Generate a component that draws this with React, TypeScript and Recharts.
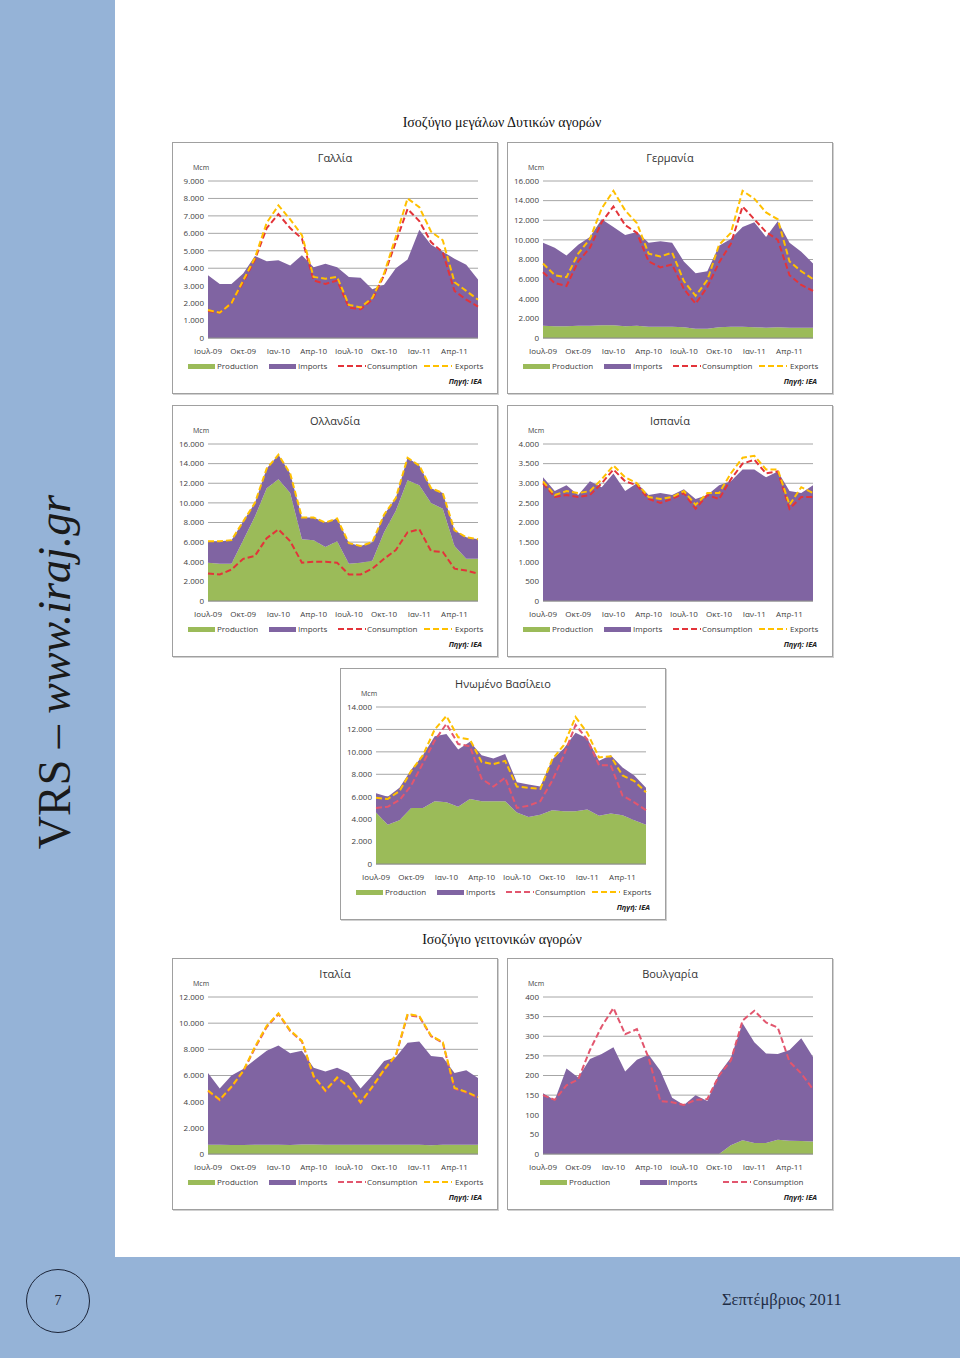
import React from "react";
import { Area, CartesianGrid, ComposedChart, Line, XAxis, YAxis } from "recharts";

const months = [
	"Ιουλ-09", "Αυγ-09", "Σεπ-09", "Οκτ-09", "Νοε-09", "Δεκ-09",
	"Ιαν-10", "Φεβ-10", "Μαρ-10", "Απρ-10", "Μαϊ-10", "Ιουν-10",
	"Ιουλ-10", "Αυγ-10", "Σεπ-10", "Οκτ-10", "Νοε-10", "Δεκ-10",
	"Ιαν-11", "Φεβ-11", "Μαρ-11", "Απρ-11", "Μαϊ-11", "Ιουν-11",
];

// Γαλλία
const frProduction = [0, 0, 0, 0, 0, 0, 0, 0, 0, 0, 0, 0, 0, 0, 0, 0, 0, 0, 0, 0, 0, 0, 0, 0];
const frImports = [3600, 3100, 3100, 3700, 4700, 4400, 4450, 4150, 4750, 4050, 4250, 4050, 3500, 3450, 2800, 3050, 4000, 4500, 6200, 5350, 4950, 4550, 4200, 3350];
const frConsumption = [1550, 1450, 2000, 3200, 4500, 6300, 7100, 6300, 5700, 3300, 3100, 3300, 1750, 1650, 2200, 3600, 5500, 7400, 6700, 5500, 4900, 2700, 2200, 1800];
const frExports = [1600, 1450, 2000, 3300, 4600, 6600, 7600, 6800, 5900, 3500, 3400, 3500, 1900, 1750, 2300, 3700, 5800, 8000, 7500, 6100, 5600, 3200, 2700, 2200];
const frTicks = [0, 1000, 2000, 3000, 4000, 5000, 6000, 7000, 8000, 9000];

// Γερμανία
const deProduction = [1250, 1200, 1200, 1250, 1250, 1300, 1300, 1200, 1250, 1150, 1150, 1150, 1100, 950, 950, 1100, 1150, 1150, 1100, 1050, 1100, 1050, 1050, 1050];
const deImports = [8450, 8000, 7200, 8250, 9050, 10800, 10000, 9300, 9550, 8550, 8700, 8550, 6700, 5650, 5850, 8300, 8950, 10150, 10700, 9250, 10800, 8650, 7750, 6550];
const deConsumption = [6700, 5600, 5300, 7800, 9200, 11800, 13400, 11500, 10700, 7800, 7200, 7500, 5000, 3500, 5200, 7700, 9600, 13400, 12100, 10800, 10000, 6400, 5400, 4800];
const deExports = [7600, 6400, 6200, 8600, 10100, 13200, 15000, 13000, 11700, 8600, 8300, 8700, 5800, 4300, 5900, 9500, 10700, 15000, 14200, 12800, 12100, 7800, 6800, 6000];
const deTicks = [0, 2000, 4000, 6000, 8000, 10000, 12000, 14000, 16000];

// Ολλανδία
const nlProduction = [3900, 3800, 3800, 6200, 8600, 11500, 12400, 11000, 6300, 6200, 5500, 6100, 3800, 3900, 4100, 7000, 9200, 12300, 11800, 10000, 9400, 5600, 4300, 4300];
const nlImports = [2200, 2300, 2400, 1900, 1400, 2000, 2500, 2000, 2200, 2300, 2500, 2300, 2100, 1700, 1900, 1800, 1300, 2300, 2000, 1500, 1600, 1600, 2200, 2000];
const nlConsumption = [2800, 2700, 3200, 4300, 4600, 6400, 7300, 6100, 3900, 4000, 4000, 3900, 2700, 2700, 3300, 4300, 5200, 7000, 7300, 5100, 5000, 3300, 3100, 2800];
const nlExports = [6100, 6100, 6200, 8100, 10000, 13500, 14900, 13000, 8500, 8500, 8000, 8400, 5900, 5600, 6000, 8800, 10500, 14600, 13800, 11500, 11000, 7200, 6500, 6300];
const nlTicks = [0, 2000, 4000, 6000, 8000, 10000, 12000, 14000, 16000];

// Ισπανία
const esProduction = [0, 0, 0, 0, 0, 0, 0, 0, 0, 0, 0, 0, 0, 0, 0, 0, 0, 0, 0, 0, 0, 0, 0, 0];
const esImports = [3150, 2800, 2950, 2700, 3050, 2900, 3250, 2800, 3000, 2700, 2750, 2700, 2850, 2600, 2700, 2950, 3050, 3350, 3350, 3150, 3300, 2800, 2750, 2950];
const esConsumption = [3000, 2650, 2700, 2650, 2700, 3000, 3350, 3050, 2950, 2600, 2500, 2600, 2750, 2350, 2700, 2600, 3100, 3500, 3600, 3250, 3300, 2350, 2650, 2650];
const esExports = [3050, 2700, 2800, 2750, 2800, 3100, 3450, 3150, 3000, 2650, 2600, 2650, 2800, 2450, 2750, 2750, 3250, 3650, 3700, 3350, 3350, 2450, 2900, 2750];
const esTicks = [0, 500, 1000, 1500, 2000, 2500, 3000, 3500, 4000];

// Ηνωμένο Βασίλειο
const ukProduction = [4600, 3500, 3900, 5000, 5000, 5600, 5500, 5100, 5800, 5600, 5600, 5600, 4600, 4200, 4400, 4800, 4700, 4700, 4850, 4300, 4500, 4350, 3900, 3500];
const ukImports = [1700, 2500, 2900, 3400, 4700, 5800, 6100, 5100, 5100, 4100, 3800, 4200, 2700, 2900, 2500, 4500, 5600, 7000, 6350, 4900, 5200, 4250, 4000, 3300];
const ukConsumption = [5000, 5100, 5700, 7000, 9000, 11000, 12500, 10700, 10500, 7600, 6900, 7700, 5000, 5200, 5600, 7400, 9700, 12400, 11100, 8800, 8800, 6100, 5500, 4800];
const ukExports = [5900, 5800, 6500, 8300, 9700, 12000, 13200, 11300, 11100, 9100, 8900, 9200, 6900, 6800, 6700, 9300, 10600, 13100, 11700, 9500, 9600, 7900, 7400, 6400];
const ukTicks = [0, 2000, 4000, 6000, 8000, 10000, 12000, 14000];

// Ιταλία
const itProduction = [700, 700, 680, 680, 700, 700, 700, 680, 720, 720, 700, 700, 700, 700, 700, 700, 700, 700, 700, 670, 700, 700, 700, 700];
const itImports = [5500, 4300, 5320, 5820, 6500, 7200, 7600, 7020, 7180, 5880, 5600, 5900, 5500, 4300, 5300, 6400, 6700, 7800, 7900, 6830, 6700, 5500, 5700, 5100];
const itConsumption = [4800, 4100, 5100, 6300, 8100, 9700, 10700, 9400, 8600, 5900, 4800, 5800, 5100, 3900, 5100, 6400, 7500, 10600, 10500, 9000, 8500, 5000, 4700, 4300];
const itExports = [4850, 4150, 5150, 6350, 8200, 9800, 10750, 9450, 8650, 5950, 4850, 5850, 5150, 3950, 5150, 6450, 7550, 10700, 10550, 9050, 8550, 5050, 4750, 4350];
const itTicks = [0, 2000, 4000, 6000, 8000, 10000, 12000];

// Βουλγαρία
const bgProduction = [0, 0, 0, 0, 0, 0, 0, 0, 0, 0, 0, 0, 0, 0, 0, 0, 22, 35, 28, 28, 36, 34, 33, 32];
const bgImports = [155, 137, 218, 195, 242, 255, 272, 210, 240, 253, 212, 143, 125, 150, 135, 205, 223, 298, 257, 228, 219, 231, 262, 215];
const bgConsumption = [150, 138, 175, 190, 265, 325, 372, 305, 318, 245, 135, 132, 125, 138, 140, 200, 238, 340, 365, 335, 322, 235, 205, 165];
const bgTicks = [0, 50, 100, 150, 200, 250, 300, 350, 400];

const GREEN = "#9BBB59";
const PURPLE = "#8064A2";
const RED = "#E3343A";
const PINK = "#E2566E";
const YELLOW = "#FFC000";
const BLUE = "#95B3D7";
const FONT = "'Open Sans', sans-serif";
const SERIF = "'Liberation Serif', serif";

const fmt = (v: number) => String(v).replace(/\B(?=(\d{3})+(?!\d))/g, ".");

interface IPanel {
	title: string;
	left: number;
	top: number;
	production: number[];
	imports: number[];
	consumption: number[];
	exports?: number[];
	ticks: number[];
	consColor: string;
}

const Swatch = ({ color, dashed }: { color: string; dashed?: boolean }) =>
	dashed ? (
		<svg width={28} height={4} style={{ display: "block" }}>
			<line x1={0} y1={2} x2={28} y2={2} stroke={color} strokeWidth={2} strokeDasharray="6 3" />
		</svg>
	) : (
		<div style={{ width: 27, height: 5, background: color }} />
	);

const Panel = ({ title, left, top, production, imports, consumption, exports, ticks, consColor }: IPanel) => {
	const data = months.map((m, i) => ({
		m,
		production: production[i],
		imports: imports[i],
		consumption: consumption[i],
		exports: exports ? exports[i] : undefined,
	}));
	const legend = exports
		? [
				{ name: "Production", color: GREEN, dashed: false, x: 16, tx: 45 },
				{ name: "Imports", color: PURPLE, dashed: false, x: 97, tx: 126 },
				{ name: "Consumption", color: consColor, dashed: true, x: 166, tx: 195 },
				{ name: "Exports", color: YELLOW, dashed: true, x: 252, tx: 283 },
		  ]
		: [
				{ name: "Production", color: GREEN, dashed: false, x: 33, tx: 62 },
				{ name: "Imports", color: PURPLE, dashed: false, x: 133, tx: 161 },
				{ name: "Consumption", color: consColor, dashed: true, x: 216, tx: 246 },
		  ];
	const max = ticks[ticks.length - 1];
	return (
		<div style={{ position: "absolute", left, top, width: 326, height: 252, background: "#fff", fontFamily: FONT, color: "#404040" }}>
			<ComposedChart width={326} height={252} data={data} margin={{ top: 39, right: 20, left: 0, bottom: 36 }}>
				<CartesianGrid vertical={false} stroke="#a6a6a6" />
				<XAxis
					dataKey="m"
					scale="point"
					interval={2}
					height={20}
					tickSize={0}
					tickMargin={10}
					axisLine={{ stroke: "#8c8c8c" }}
					tick={{ fontSize: 8, fill: "#404040", fontFamily: FONT }}
				/>
				<YAxis
					width={36}
					domain={[0, max]}
					ticks={ticks}
					tickFormatter={fmt}
					axisLine={false}
					tickSize={0}
					tickMargin={4}
					interval={0}
					tick={{ fontSize: 8, fill: "#404040", fontFamily: FONT }}
				/>
				<Area type="linear" dataKey="production" stackId="a" stroke="none" fill={GREEN} fillOpacity={1} isAnimationActive={false} />
				<Area type="linear" dataKey="imports" stackId="a" stroke="none" fill={PURPLE} fillOpacity={1} isAnimationActive={false} />
				<Line type="linear" dataKey="consumption" stroke={consColor} strokeWidth={2} strokeDasharray="6 3" dot={false} isAnimationActive={false} />
				{exports && (
					<Line type="linear" dataKey="exports" stroke={YELLOW} strokeWidth={2} strokeDasharray="6 3" dot={false} isAnimationActive={false} />
				)}
			</ComposedChart>
			<div style={{ position: "absolute", left: 0, top: 8, width: 326, textAlign: "center", fontSize: 11, lineHeight: "16px", color: "#333" }}>{title}</div>
			<div style={{ position: "absolute", left: 21, top: 21, fontSize: 7, lineHeight: "10px" }}>Mcm</div>
			{legend.map((l) => (
				<React.Fragment key={l.name}>
					<div style={{ position: "absolute", left: l.x, top: l.dashed ? 222 : 221.5 }}>
						<Swatch color={l.color} dashed={l.dashed} />
					</div>
					<div style={{ position: "absolute", left: l.tx, top: 218, fontSize: 8, lineHeight: "12px" }}>{l.name}</div>
				</React.Fragment>
			))}
			<div style={{ position: "absolute", right: 16, top: 234, fontSize: 7.5, lineHeight: "10px", fontWeight: 700, fontStyle: "italic", color: "#222" }}>
				Πηγή: IEA
			</div>
			<div style={{ position: "absolute", inset: 0, border: "1px solid #a0a0a0", boxShadow: "1px 1px 0 #d0d0d0", pointerEvents: "none" }} />
		</div>
	);
};

export default function App() {
	return (
		<div style={{ position: "absolute", left: 0, top: 0, width: 960, height: 1358, background: "#fff", overflow: "hidden" }}>
			<div style={{ position: "absolute", left: 0, top: 0, width: 115, height: 1358, background: BLUE }} />
			<div style={{ position: "absolute", left: 0, top: 1257, width: 960, height: 101, background: BLUE }} />
			<div
				style={{
					position: "absolute",
					left: 55,
					top: 672,
					transform: "translate(-50%, -50%) rotate(-90deg)",
					whiteSpace: "nowrap",
					fontFamily: SERIF,
					fontSize: 46,
					lineHeight: "50px",
					color: "#1a1a1a",
				}}
			>
				VRS – <i>www.iraj.gr</i>
			</div>
			<div
				style={{
					position: "absolute",
					left: 26,
					top: 1269,
					width: 62,
					height: 62,
					borderRadius: "50%",
					border: "1.5px solid #1b2438",
					display: "flex",
					alignItems: "center",
					justifyContent: "center",
					fontFamily: SERIF,
					fontSize: 14,
					color: "#1b2438",
				}}
			>
				7
			</div>
			<div style={{ position: "absolute", left: 722, top: 1290, fontFamily: SERIF, fontSize: 16.5, lineHeight: "20px", color: "#1f2d45" }}>
				Σεπτέμβριος 2011
			</div>
			<div style={{ position: "absolute", left: 302, top: 114, width: 400, textAlign: "center", fontFamily: SERIF, fontSize: 14, lineHeight: "18px", color: "#111" }}>
				Ισοζύγιο μεγάλων Δυτικών αγορών
			</div>
			<div style={{ position: "absolute", left: 302, top: 931, width: 400, textAlign: "center", fontFamily: SERIF, fontSize: 14, lineHeight: "18px", color: "#111" }}>
				Ισοζύγιο γειτονικών αγορών
			</div>
			<Panel title="Γαλλία" left={172} top={142} production={frProduction} imports={frImports} consumption={frConsumption} exports={frExports} ticks={frTicks} consColor={RED} />
			<Panel title="Γερμανία" left={507} top={142} production={deProduction} imports={deImports} consumption={deConsumption} exports={deExports} ticks={deTicks} consColor={RED} />
			<Panel title="Ολλανδία" left={172} top={405} production={nlProduction} imports={nlImports} consumption={nlConsumption} exports={nlExports} ticks={nlTicks} consColor={RED} />
			<Panel title="Ισπανία" left={507} top={405} production={esProduction} imports={esImports} consumption={esConsumption} exports={esExports} ticks={esTicks} consColor={RED} />
			<Panel title="Ηνωμένο Βασίλειο" left={340} top={668} production={ukProduction} imports={ukImports} consumption={ukConsumption} exports={ukExports} ticks={ukTicks} consColor={PINK} />
			<Panel title="Ιταλία" left={172} top={958} production={itProduction} imports={itImports} consumption={itConsumption} exports={itExports} ticks={itTicks} consColor={PINK} />
			<Panel title="Βουλγαρία" left={507} top={958} production={bgProduction} imports={bgImports} consumption={bgConsumption} ticks={bgTicks} consColor={PINK} />
		</div>
	);
}
